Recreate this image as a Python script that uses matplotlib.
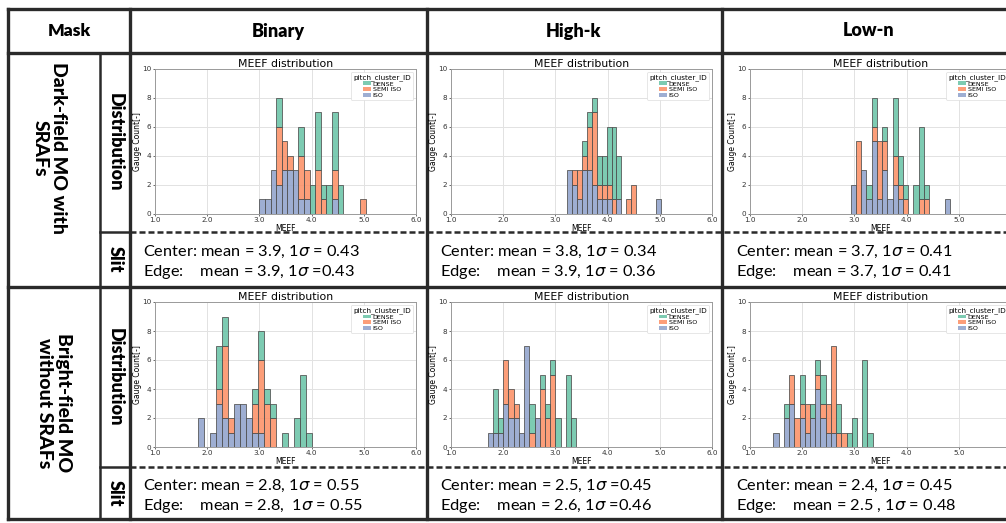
import matplotlib
matplotlib.use('Agg')
import matplotlib.pyplot as plt
from matplotlib.patches import Patch
from matplotlib.colors import to_rgba
import numpy as np

# ---- data ----
masks = ['Binary', 'High-k', 'Low-n']
row_names = ['Dark-field MO with\nSRAFs', 'Bright-field MO\nwithout SRAFs']
levels = ['DENSE', 'SEMI ISO', 'ISO']
colors = {'DENSE': '#66c2a5', 'SEMI ISO': '#fc8d62', 'ISO': '#8da0cb'}

# first bin edge and bin width of each histogram (row, column)
bin_start = [[3.00, 3.23, 2.93], [1.82, 1.70, 1.45]]
bin_width = [[0.107, 0.094, 0.100], [0.115, 0.100, 0.100]]

# dark-field MO with SRAFs
df_binary_iso = [1, 1, 3, 2, 3, 3, 3, 1, 1, 0, 0, 0, 0, 1, 0, 0, 0, 0, 0]
df_binary_semi = [0, 0, 0, 4, 2, 1, 0, 3, 2, 0, 3, 1, 0, 2, 0, 0, 0, 0, 1]
df_binary_dense = [0, 0, 0, 2, 0, 0, 0, 2, 0, 2, 4, 1, 2, 4, 2, 0, 0, 0, 0]

df_highk_iso = [3, 2, 1, 3, 3, 2, 1, 1, 1, 0, 1, 0, 0, 0, 0, 0, 0, 0, 1]
df_highk_semi = [0, 1, 2, 1, 3, 5, 1, 1, 1, 1, 0, 0, 1, 2, 0, 0, 0, 0, 0]
df_highk_dense = [0, 0, 0, 1, 1, 1, 2, 2, 4, 5, 3, 0, 0, 0, 0, 0, 0, 0, 0]

df_lown_iso = [2, 0, 3, 1, 5, 1, 3, 1, 2, 1, 0, 0, 0, 0, 0, 0, 0, 0, 1]
df_lown_semi = [0, 5, 0, 0, 1, 4, 2, 0, 2, 1, 1, 0, 0, 1, 1, 0, 0, 0, 0]
df_lown_dense = [0, 0, 0, 1, 2, 0, 1, 0, 4, 2, 1, 0, 2, 5, 1, 0, 0, 0, 0]

# bright-field MO without SRAFs
bf_binary_iso = [2, 0, 1, 3, 2, 1, 3, 3, 2, 1, 1, 0, 0, 0, 0, 0, 0, 0, 0]
bf_binary_semi = [0, 0, 0, 1, 5, 1, 0, 0, 0, 2, 5, 3, 2, 0, 0, 0, 0, 0, 0]
bf_binary_dense = [0, 0, 0, 3, 2, 0, 0, 0, 0, 1, 2, 1, 1, 0, 1, 0, 2, 5, 1]

bf_highk_iso = [1, 1, 1, 3, 2, 2, 1, 7, 0, 2, 0, 0, 0, 0, 0, 0, 0]
bf_highk_semi = [0, 0, 0, 3, 2, 1, 0, 0, 1, 0, 4, 2, 5, 0, 0, 0, 0]
bf_highk_dense = [0, 3, 1, 0, 0, 0, 0, 0, 2, 0, 1, 1, 1, 2, 0, 5, 2]

bf_lown_iso = [1, 0, 2, 3, 0, 2, 1, 2, 4, 2, 1, 1, 0, 0, 0, 0, 0, 0, 0]
bf_lown_semi = [0, 0, 0, 2, 2, 1, 2, 0, 1, 1, 2, 6, 1, 1, 0, 0, 0, 0, 0]
bf_lown_dense = [0, 0, 1, 0, 0, 2, 0, 1, 1, 2, 0, 0, 2, 0, 1, 2, 0, 6, 1]

counts = [
    [(df_binary_iso, df_binary_semi, df_binary_dense),
     (df_highk_iso, df_highk_semi, df_highk_dense),
     (df_lown_iso, df_lown_semi, df_lown_dense)],
    [(bf_binary_iso, bf_binary_semi, bf_binary_dense),
     (bf_highk_iso, bf_highk_semi, bf_highk_dense),
     (bf_lown_iso, bf_lown_semi, bf_lown_dense)],
]

center_txt = [['Center: mean = 3.9, 1$\\sigma$ = 0.43',
               'Center: mean = 3.8, 1$\\sigma$ = 0.34',
               'Center: mean = 3.7, 1$\\sigma$ = 0.41'],
              ['Center: mean = 2.8, 1$\\sigma$ = 0.55',
               'Center: mean = 2.5, 1$\\sigma$ =0.45',
               'Center: mean = 2.4, 1$\\sigma$ = 0.45']]
edge_txt = [['Edge:    mean = 3.9, 1$\\sigma$ =0.43',
             'Edge:    mean = 3.9, 1$\\sigma$ = 0.36',
             'Edge:    mean = 3.7, 1$\\sigma$ = 0.41'],
            ['Edge:    mean = 2.8,  1$\\sigma$ = 0.55',
             'Edge:    mean = 2.6, 1$\\sigma$ =0.46',
             'Edge:    mean = 2.5 , 1$\\sigma$ = 0.48']]

# ---- layout (pixels) ----
W, H = 1006, 523
fig = plt.figure(figsize=(W / 100, H / 100), dpi=100)
bg = fig.add_axes([0, 0, 1, 1])
bg.set_xlim(0, W)
bg.set_ylim(H, 0)
bg.axis('off')

lc = '#2a2a2a'
for y in (9, 53, 287, 519):
    bg.plot([8, W], [y, y], color=lc, lw=2.4, solid_capstyle='projecting')
for x in (8, 130, 427, 722):
    bg.plot([x, x], [9, 519], color=lc, lw=2.4, solid_capstyle='projecting')
bg.plot([100, 100], [53, 519], color=lc, lw=1.8)
for y in (232, 467):
    bg.plot([100, 130], [y, y], color=lc, lw=1.8)
    bg.plot([130, W], [y, y], color=lc, lw=1.8, ls=(0, (2.4, 1.2)))

hfont = 'Lato'
bg.text(69, 31, 'Mask', ha='center', va='center', fontsize=12.5,
        fontweight='heavy', family=hfont)
col_centers = [278, 574, 869]
for c in range(3):
    bg.text(col_centers[c], 31, masks[c], ha='center', va='center',
            fontsize=13, fontweight='heavy', family=hfont)

row_x = [49, 54]
row_mid = [148, 403]
dist_mid = [142, 377]
slit_mid = [259, 493]
for r in range(2):
    bg.text(row_x[r], row_mid[r], row_names[r], rotation=-90, ha='center',
            va='center', multialignment='center', fontsize=14,
            fontweight='black', family=hfont, linespacing=1.1)
    bg.text(115, dist_mid[r], 'Distribution', rotation=-90, ha='center',
            va='center', fontsize=13, fontweight='heavy', family=hfont)
    bg.text(115, slit_mid[r], 'Slit', rotation=-90, ha='center', va='center',
            fontsize=13, fontweight='heavy', family=hfont)

txt_x = [143, 440, 736]
txt_y = [(252, 272), (486, 506)]
for r in range(2):
    for c in range(3):
        bg.text(txt_x[c], txt_y[r][0], center_txt[r][c], ha='left', va='center',
                fontsize=11.8, family=hfont)
        bg.text(txt_x[c], txt_y[r][1], edge_txt[r][c], ha='left', va='center',
                fontsize=11.8, family=hfont)

# ---- histograms ----
ax_left = [155, 451, 750]
ax_top = [69, 302]
ax_w, ax_h = 261, 145

for r in range(2):
    for c in range(3):
        ax = fig.add_axes([ax_left[c] / W, 1 - (ax_top[r] + ax_h) / H,
                           ax_w / W, ax_h / H])
        iso, semi, dense = [np.array(v, dtype=float) for v in counts[r][c]]
        x = bin_start[r][c] + bin_width[r][c] * np.arange(len(iso))
        bottom = np.zeros_like(iso)
        for name, vals in (('ISO', iso), ('SEMI ISO', semi), ('DENSE', dense)):
            keep = vals > 0
            ax.bar(x[keep], vals[keep], width=bin_width[r][c], bottom=bottom[keep],
                   align='edge', color=to_rgba(colors[name], 0.85),
                   edgecolor='#4d4d4d', linewidth=0.55, zorder=3)
            bottom = bottom + vals
        ax.set_xlim(1, 6)
        ax.set_ylim(0, 10)
        ax.set_xticks([1, 2, 3, 4, 5, 6])
        ax.set_xticklabels(['1.0', '2.0', '3.0', '4.0', '5.0', '6.0'])
        ax.set_yticks([0, 2, 4, 6, 8, 10])
        ax.tick_params(labelsize=5.2, length=1.5, width=0.5, pad=1,
                       colors='#333333')
        ax.grid(color='#e2e2e2', lw=0.7, zorder=0)
        ax.set_axisbelow(True)
        for s in ax.spines.values():
            s.set_color('#9a9a9a')
            s.set_linewidth(0.7)
        ax.set_title('MEEF distribution', fontsize=7.8, pad=1.2)
        ax.set_xlabel('MEEF', fontsize=5.5, labelpad=0.5)
        ax.set_ylabel('Gauge Count[-]', fontsize=5.5, labelpad=0.5)
        handles = [Patch(facecolor=to_rgba(colors[n], 0.85), label=n) for n in levels]
        leg = ax.legend(handles=handles, title='pitch_cluster_ID', loc='upper right',
                        fontsize=4.6, title_fontsize=5.2, handlelength=1.2,
                        handleheight=0.5, borderpad=0.3, labelspacing=0.1,
                        handletextpad=0.3, framealpha=1, edgecolor='#dddddd')
        leg.get_frame().set_linewidth(0.5)

fig.savefig('out.png', dpi=100)
